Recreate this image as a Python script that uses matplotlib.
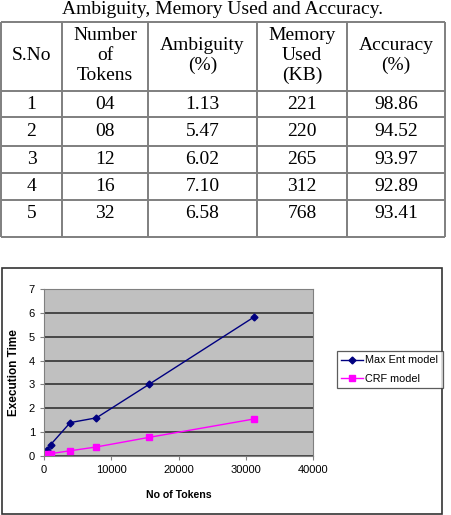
import matplotlib
matplotlib.use("Agg")
import matplotlib.pyplot as plt
from matplotlib.patches import Rectangle

# ---- table data ----
table_title = "Ambiguity, Memory Used and Accuracy."
headers = ["S.No", "Number\nof\nTokens", "Ambiguity\n(%)", "Memory\nUsed\n(KB)", "Accuracy\n(%)"]
sno = ["1", "2", "3", "4", "5"]
num_tokens = ["04", "08", "12", "16", "32"]
ambiguity = ["1.13", "5.47", "6.02", "7.10", "6.58"]
memory_kb = ["221", "220", "265", "312", "768"]
accuracy = ["98.86", "94.52", "93.97", "92.89", "93.41"]

# ---- chart data ----
tokens = [250, 500, 1000, 3900, 7800, 15600, 31200]
max_ent = [0.08, 0.25, 0.48, 1.40, 1.60, 3.00, 5.82]
crf = [0.04, 0.07, 0.10, 0.22, 0.38, 0.78, 1.55]
series_names = ["Max Ent model", "CRF model"]

W, H = 451, 515
fig = plt.figure(figsize=(W / 100, H / 100), dpi=100)

# overlay axes in pixel coordinates for table and chart frame
ov = fig.add_axes([0, 0, 1, 1])
ov.set_xlim(0, W)
ov.set_ylim(H, 0)
ov.axis("off")

serif = "Liberation Serif"
sans = "Liberation Sans"
fs = 14
lc = "#7f7f7f"

ov.text(222, 10, table_title, ha="center", va="center", fontsize=fs, family=serif)

col_x = [1, 62, 148, 257, 347, 445]
row_y = [22, 91, 117, 146, 173, 200, 237]
for x in col_x:
    ov.plot([x, x], [row_y[0], row_y[-1]], color=lc, lw=1.4, solid_capstyle="butt")
for y in row_y:
    ov.plot([col_x[0], col_x[-1]], [y, y], color=lc, lw=1.4, solid_capstyle="butt")

centers = [(col_x[i] + col_x[i + 1]) / 2 for i in range(5)]
for c, h in zip(centers, headers):
    ov.text(c, 55.5, h, ha="center", va="center", fontsize=fs, family=serif, linespacing=1.2)

cols = [sno, num_tokens, ambiguity, memory_kb, accuracy]
text_rows = [104.5, 131.5, 159.5, 186.5, 213]
for r in range(5):
    for c in range(5):
        ov.text(centers[c], text_rows[r], cols[c][r], ha="center", va="center",
                fontsize=fs, family=serif)

# chart frame
ov.add_patch(Rectangle((2, 268), 440, 246, fill=False, edgecolor="#333333", lw=1.2))

# ---- chart ----
left, right, top, bottom = 44, 313, 289, 456
ax = fig.add_axes([left / W, 1 - bottom / H, (right - left) / W, (bottom - top) / H])
ax.set_facecolor("#c0c0c0")
ax.plot(tokens, max_ent, color="#000080", marker="D", markersize=3.5, lw=1,
        label=series_names[0])
ax.plot(tokens, crf, color="#ff00ff", marker="s", markersize=4, lw=1,
        label=series_names[1])
ax.set_xlim(0, 40000)
ax.set_ylim(0, 7)
ax.set_xticks([0, 10000, 20000, 30000, 40000])
ax.set_yticks(range(0, 8))
ax.yaxis.grid(True, color="#333333", lw=1.2)
ax.set_axisbelow(True)
for s in ["top", "right", "left", "bottom"]:
    ax.spines[s].set_color("#808080")
ax.tick_params(axis="both", labelsize=8, length=3, color="#808080", direction="out")
for lab in ax.get_xticklabels() + ax.get_yticklabels():
    lab.set_family(sans)
ax.set_xlabel("No of Tokens", fontsize=7.6, fontweight="bold", family=sans, labelpad=11)
ax.set_ylabel("Execution Time", fontsize=8.5, fontweight="bold", family=sans, labelpad=6)

leg = fig.legend(loc="upper left", bbox_to_anchor=(337 / W, 1 - 351 / H),
                 prop={"family": sans, "size": 7.8}, frameon=True, fancybox=False,
                 edgecolor="#333333", handlelength=2.0, borderpad=0.4,
                 labelspacing=0.8, handletextpad=0.2, borderaxespad=0)
leg.get_frame().set_linewidth(0.9)

fig.savefig("out.png", dpi=100)
